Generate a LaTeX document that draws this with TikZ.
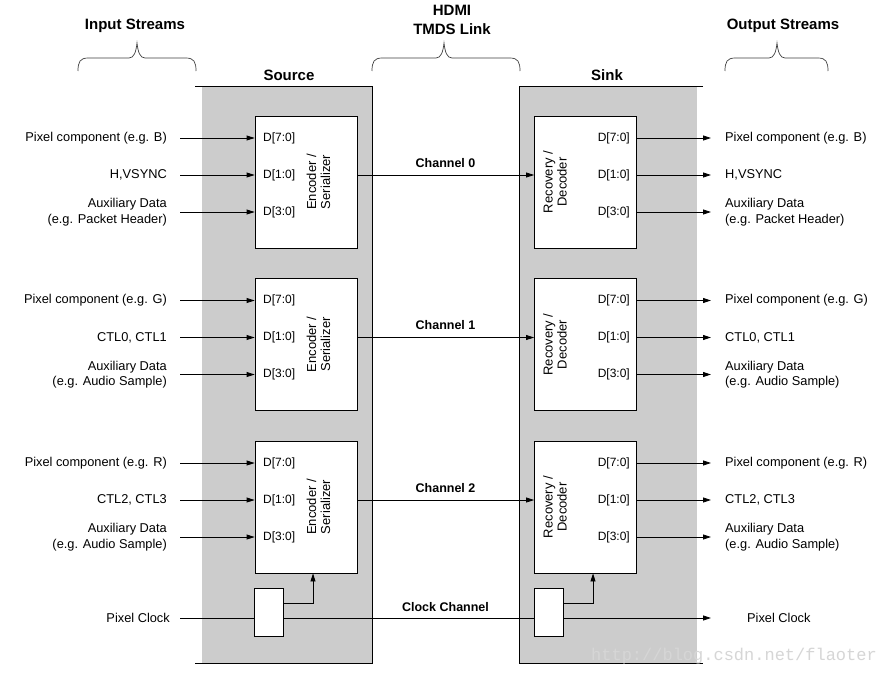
\documentclass[tikz,border=0pt]{standalone}
\usepackage{fontspec}
\setmainfont{Liberation Sans}
\setmonofont{Liberation Mono}
\usetikzlibrary{arrows.meta}
\definecolor{panelgray}{HTML}{CCCCCC}
\definecolor{wmgray}{HTML}{D6D6D6}
\newcommand\drawbrace[3]{% x1, xm, x2
  \draw[bracestyle] (#1,71) .. controls (#1,62) and ({#1+2},58) .. ({#1+10},58) -- ({#2-8},58)
    .. controls ({#2-3},58) and ({#2-1},52) .. (#2,43)
    .. controls ({#2+1},52) and ({#2+3},58) .. ({#2+8},58) -- ({#3-10},58)
    .. controls ({#3-2},58) and (#3,62) .. (#3,71);}
\newcommand\chgroup[5]{% #1 idx, #2 yc, #3 pixel, #4 ctl, #5 aux2
  \node[blk] (enc#1) at (306,#2) {};
  \node[blk] (dec#1) at (585.5,#2) {};
  \node[dlbl, anchor=west] (ea#1) at (263,{#2-44}) {D[7:0]};
  \node[dlbl, anchor=west] (eb#1) at (263,{#2-7}) {D[1:0]};
  \node[dlbl, anchor=west] (ec#1) at (263,{#2+30}) {D[3:0]};
  \node[dlbl, anchor=east] (da#1) at (630,{#2-44}) {D[7:0]};
  \node[dlbl, anchor=east] (db#1) at (630,{#2-7}) {D[1:0]};
  \node[dlbl, anchor=east] (dc#1) at (630,{#2+30}) {D[3:0]};
  \node[rlbl, rotate=90, align=center] (et#1) at (318.5,#2) {Encoder /\\Serializer};
  \node[rlbl, rotate=90, align=center] (dt#1) at (555,#2) {Recovery /\\Decoder};
  \node[lbl, anchor=east] (ia#1) at (167,{#2-44}) {Pixel component (e.g. #3)};
  \node[lbl, anchor=east] (ib#1) at (167,{#2-7}) {#4};
  \node[lbl, anchor=east, align=right] (ic#1) at (167,{#2+30}) {Auxiliary Data\\(e.g. #5)};
  \node[lbl, anchor=west] (oa#1) at (725,{#2-44}) {Pixel component (e.g. #3)};
  \node[lbl, anchor=west] (ob#1) at (725,{#2-7}) {#4};
  \node[lbl, anchor=west, align=left] (oc#1) at (725,{#2+30}) {Auxiliary Data\\(e.g. #5)};
  \foreach \r in {a,b,c}{
    \draw[arr] ([xshift=13pt]i\r#1.east) -- (enc#1.west |- e\r#1.west);
    \draw[arr] (dec#1.east |- d\r#1.east) -- ([xshift=-14pt]o\r#1.west);
  }
  \draw[arr] (enc#1.east |- eb#1.west) -- (dec#1.west |- eb#1.west);
  \node[chl] (ch#1) at (445.5,{#2-19}) {Channel #1};
}
\begin{document}
\begin{tikzpicture}[x=1pt,y=-1pt,
  lbl/.style={font=\fontsize{12.8}{15.5}\selectfont, inner sep=0pt},
  dlbl/.style={font=\fontsize{12}{14.5}\selectfont, inner sep=0pt},
  rlbl/.style={font=\fontsize{13}{14}\selectfont, inner sep=0pt},
  ttl/.style={font=\fontsize{15}{19}\selectfont\bfseries, inner sep=0pt},
  chl/.style={font=\fontsize{12.5}{15}\selectfont\bfseries, inner sep=0pt},
  blk/.style={draw, fill=white, line width=0.8pt, minimum width=102pt, minimum height=132pt, inner sep=0pt},
  clk/.style={draw, fill=white, line width=0.8pt, minimum width=29pt, minimum height=48pt, inner sep=0pt},
  ln/.style={line width=0.8pt},
  arr/.style={ln, -{Triangle[length=8pt,width=5pt]}},
  bracestyle/.style={line width=0.7pt, draw=black!75}
]
\useasboundingbox (0,0) rectangle (891,677);
\fill[white] (0,0) rectangle (891,677);
% panels
\fill[panelgray] (202,86) rectangle (372,663);
\draw[ln] (195,86) -- (372,86) -- (372,663) -- (195,663);
\fill[panelgray] (519,86) rectangle (697,663);
\draw[ln] (703,86) -- (519,86) -- (519,663) -- (703,663);
% titles
\node[ttl] (src) at (289,75) {Source};
\node[ttl] (snk) at (607,75) {Sink};
\node[ttl] (ins) at (135,26) {Input Streams};
\node[ttl, align=center] (hdmi) at (452,19.5) {HDMI\\TMDS Link};
\node[ttl] (outs) at (783,26) {Output Streams};
\drawbrace{78}{137}{196}
\drawbrace{372}{444}{520}
\drawbrace{725}{777}{828}
% channel groups
\chgroup{0}{182}{B}{H,VSYNC}{Packet Header}
\chgroup{1}{344.5}{G}{CTL0, CTL1}{Audio Sample}
\chgroup{2}{507}{R}{CTL2, CTL3}{Audio Sample}
% clock
\node[clk] (sclk) at (268.5,612) {};
\node[clk] (kclk) at (548.5,612) {};
\node[lbl, anchor=east] (pcin) at (170,618) {Pixel Clock};
\node[lbl, anchor=west] (pcout) at (747,618) {Pixel Clock};
\node[chl] (cch) at (445.5,607) {Clock Channel};
\coordinate (c0) at (180,618);
\coordinate (c1) at (711,618);
\draw[ln] (c0) -- (c0 -| sclk.west);
\draw[ln] (sclk.east |- c0) -- (kclk.west |- c0);
\draw[arr] (kclk.east |- c0) -- (c1);
\coordinate (su) at (313,603);
\coordinate (ku) at (593,603);
\draw[arr] (sclk.east |- su) -| (enc2.south -| su);
\draw[arr] (kclk.east |- ku) -| (dec2.south -| ku);
% watermark
\node[font=\ttfamily\fontsize{17}{17}\selectfont, text=wmgray, inner sep=0pt] (wm) at (734,656) {http://blog.csdn.net/flaoter};
\end{tikzpicture}
\end{document}
